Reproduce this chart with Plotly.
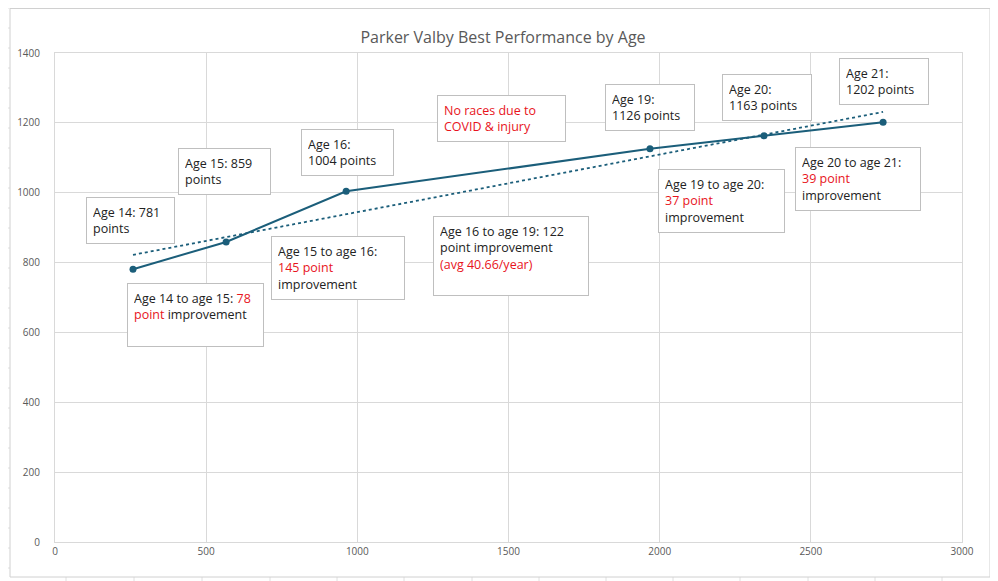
import plotly.graph_objects as go
import numpy as np

x_vals = [258, 566, 963, 1968, 2345, 2739]
points = [781, 859, 1004, 1126, 1163, 1202]

RED = "#e8141c"
labels = [
    (103, 987, "Age 14: 781<br>points", 89),
    (407, 1128, "Age 15: 859<br>points", 93),
    (814, 1182, "Age 16:<br>1004 points", 93),
    (1264, 1280, f"<span style='color:{RED}'>No races due to<br>COVID &amp; injury</span>", 129),
    (1819, 1311, "Age 19:<br>1126 points", 90),
    (2206, 1340, "Age 20:<br>1163 points", 90),
    (2593, 1386, "Age 21:<br>1202 points", 90),
    (238, 741, f"Age 14 to age 15: <span style='color:{RED}'>78</span><br><span style='color:{RED}'>point</span> improvement<br> ", 137),
    (715, 876, f"Age 15 to age 16:<br><span style='color:{RED}'>145 point</span><br>improvement", 134),
    (1250, 933, f"Age 16 to age 19: 122<br>point improvement<br><span style='color:{RED}'>(avg 40.66/year)</span><br> ", 156),
    (1995, 1068, f"Age 19 to age 20:<br><span style='color:{RED}'>37 point</span><br>improvement", 127),
    (2448, 1131, f"Age 20 to age 21:<br><span style='color:{RED}'>39 point</span><br>improvement", 126),
]

m, b = np.polyfit(x_vals, points, 1)
tx = [x_vals[0], x_vals[-1]]
ty = [m * v + b for v in tx]

fig = go.Figure()
fig.add_trace(go.Scatter(x=tx, y=ty, mode="lines",
                         line=dict(color="#1b5e7a", width=1.8, dash="dot"), hoverinfo="skip"))
fig.add_trace(go.Scatter(x=x_vals, y=points, mode="lines+markers",
                         line=dict(color="#1b5e7a", width=2), marker=dict(size=7, color="#1b5e7a")))

for (ax, ay, txt, w) in labels:
    fig.add_annotation(x=ax, y=ay, xref="x", yref="y", xanchor="left", yanchor="top",
                       text=txt, showarrow=False, align="left", width=w - 14,
                       bordercolor="#bfbfbf", borderwidth=1, borderpad=6, bgcolor="white",
                       font=dict(size=12.5, color="#222222", family="Open Sans"))

# page-pixel -> paper coords (page is offset by 8px body margin)
def px(xp):
    return (xp - 55) / 907
def py(yp):
    return (542 - yp) / 489

shapes = []
for yy in range(8, 581, 20):
    for (a, c) in [(0, 10), (990, 998)]:
        shapes.append(dict(type="line", xref="paper", yref="paper", x0=px(max(a, 8)), x1=px(c),
                           y0=py(yy), y1=py(yy), line=dict(color="#e0e0e0", width=1)))
for xx in [66, 134, 202, 270, 337, 404, 472, 539, 606, 673, 740, 808, 875, 942]:
    for (y0, y1) in [(8, 4), (577, 581)]:
        shapes.append(dict(type="line", xref="paper", yref="paper", x0=px(xx), x1=px(xx),
                           y0=py(max(y0, 8)), y1=py(y1), line=dict(color="#e0e0e0", width=1)))
shapes.append(dict(type="rect", xref="paper", yref="paper", x0=px(10), x1=px(990),
                   y0=py(8.5), y1=py(577), line=dict(color="#d0d0d0", width=1)))

fig.update_layout(
    width=990, height=573, margin=dict(l=47, r=36, t=45, b=39, autoexpand=False),
    paper_bgcolor="white", plot_bgcolor="white", showlegend=False,
    title=dict(text="Parker Valby Best Performance by Age", x=0.5, xanchor="center", y=0.958,
               font=dict(size=16, color="#595959", family="Open Sans")),
    font=dict(family="Open Sans", color="#595959", size=10),
    shapes=shapes,
    xaxis=dict(range=[0, 3000], dtick=500, showgrid=True, gridcolor="#d9d9d9", zeroline=False,
               showline=True, linecolor="#d9d9d9", tickfont=dict(size=10, color="#595959"), mirror=True),
    yaxis=dict(range=[0, 1400], dtick=200, showgrid=True, gridcolor="#d9d9d9", zeroline=False,
               showline=True, linecolor="#d9d9d9", ticks="", ticklabelstandoff=12,
               tickfont=dict(size=10, color="#595959"), mirror=True),
)
fig.write_html("out.html")
